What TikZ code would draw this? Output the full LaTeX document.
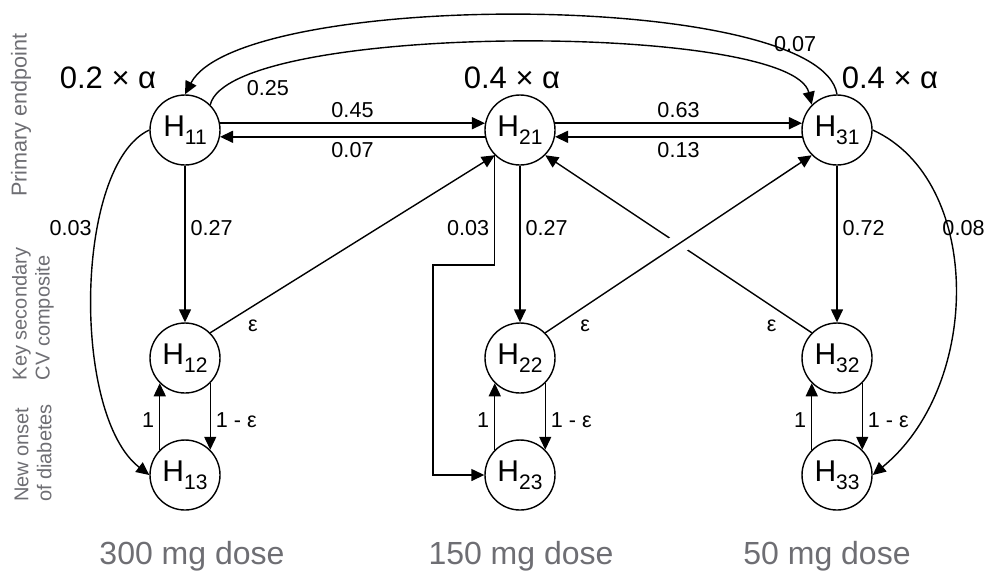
\documentclass[tikz,border=0pt]{standalone}
\usepackage{fontspec}
\setmainfont{Liberation Sans}
\usetikzlibrary{arrows.meta}
\definecolor{axisgray}{RGB}{110,110,115}
\newcommand{\Hsub}[1]{H\raisebox{-4pt}{\fontsize{10.5}{12}\selectfont #1}}
\tikzset{
	state/.style={draw,circle,line width=0.7pt,minimum size=35pt,inner sep=0pt,font=\fontsize{15}{18}\selectfont},
	arr/.style={line width=0.7pt,-{Triangle[length=6.5pt,width=6pt]}},
	prob/.style={font=\fontsize{10.8}{12}\selectfont,inner sep=2.5pt},
	weight/.style={font=\fontsize{15.5}{18}\selectfont},
	dose/.style={font=\fontsize{16}{19}\selectfont,text=axisgray},
	row/.style={font=\fontsize{10}{11.5}\selectfont,text=axisgray,rotate=90,align=left},
}
\begin{document}
\begin{tikzpicture}[x=0.5pt,y=-0.5pt]
		\useasboundingbox (0,0) rectangle (988,574);
		
		\node[state] (H11) at (185,130) {\Hsub{11}};
		\node[state] (H21) at (520,130) {\Hsub{21}};
		\node[state] (H31) at (837,130) {\Hsub{31}};
		\node[state] (H12) at (185,358) {\Hsub{12}};
		\node[state] (H22) at (520,358) {\Hsub{22}};
		\node[state] (H32) at (837,358) {\Hsub{32}};
		\node[state] (H13) at (185,475) {\Hsub{13}};
		\node[state] (H23) at (520,475) {\Hsub{23}};
		\node[state] (H33) at (837,475) {\Hsub{33}};
		
		\node[weight] (w11) at (108,78) {0.2 × α};
		\node[weight] (w21) at (512,78) {0.4 × α};
		\node[weight] (w31) at (890,78) {0.4 × α};
		
		\draw[arr] (H11.11) -- node[prob,above] {0.45} (H21.169);
		\draw[arr] (H21.191) -- node[prob,below] {0.07} (H11.349);
		\draw[arr] (H21.11) -- node[prob,above] {0.63} (H31.169);
		\draw[arr] (H31.191) -- node[prob,below] {0.13} (H21.349);
		
		\draw[arr] (H11) -- node[prob,right,pos=0.4] {0.27} (H12);
		\draw[arr] (H21) -- node[prob,right,pos=0.4] {0.27} (H22);
		\draw[arr] (H31) -- node[prob,right,pos=0.4] {0.72} (H32);
		
		\draw[arr] (H32.135) -- node[prob,pos=0.15,below=4pt] {ε} (H21.315);
		\draw[arr,preaction={draw=white,line width=10pt,-,shorten <=40pt,shorten >=40pt}] (H22.45) -- node[prob,pos=0.15,below=4pt] {ε} (H31.225);
		\draw[arr] (H12.45) -- node[prob,pos=0.15,below=4pt] {ε} (H21.225);
		
		\coordinate (bend) at (433,265);
		\draw[arr] (H21.225) |- node[prob,pos=0.33,left] {0.03} (bend) |- (H23.west);
		
		\draw[arr] (H31.north) .. controls +(-17,-105) and +(55,-105) .. node[prob,pos=0.15,above,inner sep=1pt] {0.07} (H11.north);
		\draw[arr] (H11.45) .. controls +(20,-83) and +(-20,-83) .. node[prob,pos=0.13,below right,inner sep=1.5pt] {0.25} (H31.135);
		\draw[arr] (H11.west) .. controls +(-75,35) and +(-78,-60) .. node[prob,pos=0.35,left] {0.03} (H13.west);
		\draw[arr] (H31.east) .. controls +(110,50) and +(110,-90) .. node[prob,pos=0.35,right,inner sep=0pt,xshift=-3pt] {0.08} (H33.east);
		
		\draw[arr] (H13.135) -- node[prob,left,pos=0.45] {1} (H12.225);
		\draw[arr] (H12.315) -- node[prob,right,pos=0.55] {1 - ε} (H13.45);
		\draw[arr] (H23.135) -- node[prob,left,pos=0.45] {1} (H22.225);
		\draw[arr] (H22.315) -- node[prob,right,pos=0.55] {1 - ε} (H23.45);
		\draw[arr] (H33.135) -- node[prob,left,pos=0.45] {1} (H32.225);
		\draw[arr] (H32.315) -- node[prob,right,pos=0.55] {1 - ε} (H33.45);
		
		\node[row,font=\fontsize{10.8}{11.5}\selectfont] (r1) at (21,115) {Primary endpoint};
		\node[row] (r2) at (33,314) {Key secondary\\CV composite};
		\node[row] (r3) at (33,453) {New onset\\of diabetes};
		
		\node[dose] (d1) at (192,556) {300 mg dose};
		\node[dose] (d2) at (521,556) {150 mg dose};
		\node[dose] (d3) at (827,556) {50 mg dose};
	\end{tikzpicture}
\end{document}
